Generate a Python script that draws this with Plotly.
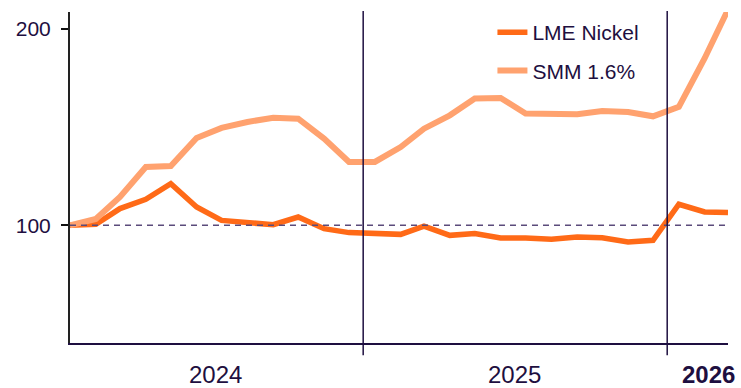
import plotly.graph_objects as go

months = ["2024-01-15", "2024-02-15", "2024-03-15", "2024-04-15", "2024-05-15", "2024-06-15",
          "2024-07-15", "2024-08-15", "2024-09-15", "2024-10-15", "2024-11-15", "2024-12-15",
          "2025-01-15", "2025-02-15", "2025-03-15", "2025-04-15", "2025-05-15", "2025-06-15",
          "2025-07-15", "2025-08-15", "2025-09-15", "2025-10-15", "2025-11-15", "2025-12-15",
          "2026-01-15", "2026-02-15", "2026-03-15"]

lme_nickel = [100, 100.5, 108.5, 113.2, 121.2, 109.3, 102.5, 101.3, 100.3, 104.2, 98.3, 96.3,
              96.0, 95.4, 99.6, 94.9, 95.8, 93.6, 93.6, 92.9, 94.1, 93.7, 91.5, 92.4,
              110.7, 106.8, 106.5]

smm_16 = [100, 103.2, 114.4, 129.6, 130.1, 144.4, 149.5, 152.5, 154.7, 154.2, 144.1, 132.2,
          132.2, 139.8, 149.1, 155.9, 164.4, 164.7, 156.8, 156.4, 156.4, 158.1, 157.6, 155.4,
          160.2, 184.9, 209.6]

year_dividers = ["2025-01-01", "2026-01-01"]
year_labels = ["2024", "2025", "<b>2026</b>"]
y_ticks = [100, 200]
baseline = 100

TXT = "#1e0f40"
fig = go.Figure()
fig.add_trace(go.Scatter(x=months, y=lme_nickel, mode="lines", name="LME Nickel",
                         line=dict(color="#ff6a17", width=5.5), legendgroup="a"))
fig.add_trace(go.Scatter(x=months, y=smm_16, mode="lines", name="SMM 1.6%",
                         line=dict(color="#ffa26f", width=6), legendgroup="b"))

fig.add_shape(type="line", xref="paper", yref="y", x0=0, x1=1, y0=baseline, y1=baseline,
              line=dict(color="#5b4b7b", width=1.5, dash="6px,5px"))
for d in year_dividers:
    fig.add_shape(type="line", xref="x", yref="paper", x0=d, x1=d, y0=-0.037, y1=1.003,
                  line=dict(color="#1e0f40", width=1.5))

label_pos = [(0.221, "center"), (0.676, "center"), (1.014, "right")]
for txt, (px, anc) in zip(year_labels, label_pos):
    fig.add_annotation(text=txt, xref="paper", yref="paper", x=px, y=-0.095, xanchor=anc,
                       yanchor="middle", showarrow=False, font=dict(size=24, color=TXT))

fig.update_layout(
    width=741, height=388,
    margin=dict(l=70, r=13, t=12, b=45),
    plot_bgcolor="white", paper_bgcolor="white",
    font=dict(family="Liberation Sans, Arial, sans-serif", color=TXT),
    showlegend=True,
    legend=dict(x=0.642, y=1.0, xanchor="left", yanchor="top", bgcolor="rgba(0,0,0,0)",
                font=dict(size=21, color=TXT), tracegroupgap=8, itemwidth=30),
    xaxis=dict(range=[months[0], months[-1]], showgrid=False, showticklabels=False,
               ticks="", showline=True, linecolor="#1e0f40", linewidth=2, zeroline=False),
    yaxis=dict(range=[40.2, 208.4], tickvals=y_ticks, showgrid=False, zeroline=False,
               ticks="outside", ticklen=7, tickwidth=2, tickcolor="#111",
               showline=True, linecolor="#222", linewidth=2,
               tickfont=dict(size=21, color=TXT), ticklabelstandoff=6),
)
fig.write_html("out.html")
